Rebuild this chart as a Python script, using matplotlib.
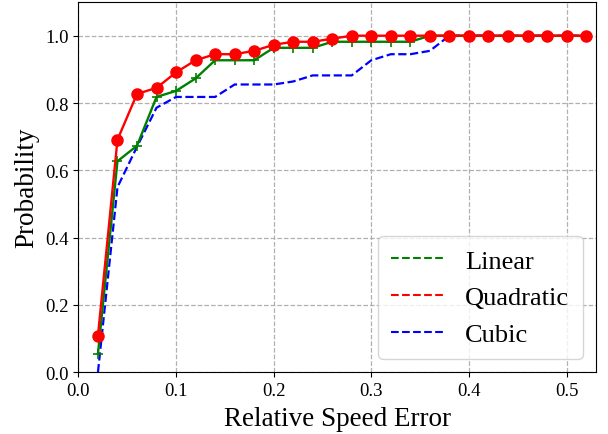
import numpy as np
import matplotlib
matplotlib.use('Agg')
import matplotlib.pyplot as plt
from matplotlib.lines import Line2D

plt.rcParams['font.family'] = ['Liberation Serif', 'DejaVu Serif']

# relative speed error thresholds
err = [0.02, 0.04, 0.06, 0.08, 0.10, 0.12, 0.14, 0.16, 0.18, 0.20, 0.22, 0.24, 0.26,
       0.28, 0.30, 0.32, 0.34, 0.36, 0.38, 0.40, 0.42, 0.44, 0.46, 0.48, 0.50, 0.52]

linear = [0.055, 0.627, 0.673, 0.818, 0.836, 0.873, 0.927, 0.927, 0.927, 0.964, 0.964, 0.964, 0.982,
          0.982, 0.982, 0.982, 0.982, 1.0, 1.0, 1.0, 1.0, 1.0, 1.0, 1.0, 1.0, 1.0]
quadratic = [0.109, 0.691, 0.827, 0.845, 0.891, 0.927, 0.945, 0.945, 0.955, 0.973, 0.982, 0.982, 0.991,
             1.0, 1.0, 1.0, 1.0, 1.0, 1.0, 1.0, 1.0, 1.0, 1.0, 1.0, 1.0, 1.0]
cubic = [0.0, 0.55, 0.67, 0.786, 0.818, 0.818, 0.818, 0.855, 0.855, 0.855, 0.864, 0.882, 0.882,
         0.882, 0.927, 0.945, 0.945, 0.955, 1.0, 1.0, 1.0, 1.0, 1.0, 1.0, 1.0, 1.0]

labels = ['Linear', 'Quadratic', 'Cubic']
colors = ['green', 'red', 'blue']

fig = plt.figure(figsize=(6.08, 4.35), dpi=100)
ax = fig.add_axes([0.129, 0.142, 0.851, 0.851])

ax.plot(err, cubic, '--', color='blue', lw=1.6, zorder=3)
ax.plot(err, linear, '-', color='green', lw=1.7, marker='+', ms=7, mew=1.2, zorder=4)
ax.plot(err, quadratic, '-', color='red', lw=1.7, marker='o', ms=8, zorder=5)

ax.set_xlim(0, 0.53)
ax.set_ylim(0, 1.1)
ax.set_xticks([0.0, 0.1, 0.2, 0.3, 0.4, 0.5])
ax.set_yticks([0.0, 0.2, 0.4, 0.6, 0.8, 1.0])
ax.tick_params(labelsize=13.5)
ax.grid(True, linestyle='--', color='#b0b0b0', lw=0.9)
ax.set_xlabel('Relative Speed Error', fontsize=19.5, labelpad=5)
ax.set_ylabel('Probability', fontsize=19.5, labelpad=4)

handles = [Line2D([], [], color=c, ls='--', lw=1.5) for c in colors]
ax.legend(handles, labels, loc='lower right', fontsize=19, labelspacing=0.5, borderpad=0.5)

fig.savefig('out.png', dpi=100)
